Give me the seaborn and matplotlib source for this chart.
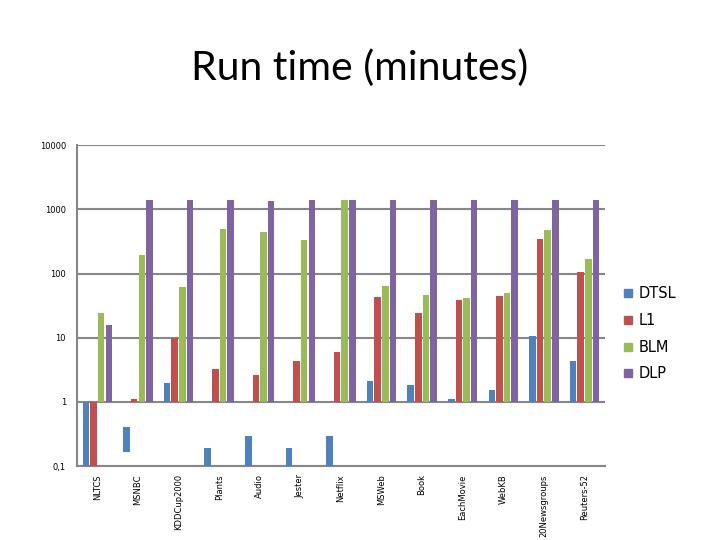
import numpy as np
import pandas as pd
import seaborn as sns
import matplotlib.pyplot as plt
from matplotlib.lines import Line2D

datasets = ['NLTCS', 'MSNBC', 'KDDCup2000', 'Plants', 'Audio', 'Jester', 'Netflix',
            'MSWeb', 'Book', 'EachMovie', 'WebKB', '20Newsgroups', 'Reuters-52']
methods = ['DTSL', 'L1', 'BLM', 'DLP']
colors = ['#4F81BD', '#C0504D', '#9BBB59', '#8064A2']

dtsl = [1.0, 0.40, 1.97, 0.19, 0.29, 0.19, 0.29, 2.14, 1.84, 1.09, 1.54, 10.6, 4.4]
l1 = [1.0, 1.09, 10.0, 3.2, 2.6, 4.4, 6.0, 42.6, 24.3, 38.7, 44.7, 343, 105]
blm = [24, 198, 61, 500, 440, 338, 1380, 64, 46, 41.6, 49, 478, 168]
dlp = [15.7, 1414, 1414, 1414, 1365, 1414, 1414, 1414, 1414, 1414, 1414, 1414, 1414]
# MSNBC's DTSL bar does not reach the bottom in the original
msnbc_dtsl_low = 0.164

yticks = [0.1, 1, 10, 100, 1000, 10000]
ylabels = ['0,1', '1', '10', '100', '1000', '10000']

rows = []
for m, vals in zip(methods, [dtsl, l1, blm, dlp]):
    for d, v in zip(datasets, vals):
        rows.append((d, m, v))
df = pd.DataFrame(rows, columns=['dataset', 'method', 'value'])
# bars above 1 grow from 1, the rest from the bottom of the axis (Excel style)
df['base'] = np.where(df['value'] > 1, 1.0, 0.1)
df.loc[(df.dataset == 'MSNBC') & (df.method == 'DTSL'), 'base'] = msnbc_dtsl_low

sns.set_style('white')
plt.rcParams['font.family'] = ['DejaVu Sans']
plt.rcParams['text.color'] = 'black'
plt.rcParams['xtick.labelcolor'] = 'black'
plt.rcParams['ytick.labelcolor'] = 'black'

fig, ax = plt.subplots(figsize=(7.2, 5.4), dpi=100)
fig.subplots_adjust(left=0.107, right=0.840, bottom=0.137, top=0.731)
ax.set_yscale('log')

# one call per bar base, full frame each time so the dodge slots stay the same
for b in sorted(df['base'].unique()):
    part = df.copy()
    part['span'] = np.where(part['base'] == b, part['value'] - part['base'], np.nan)
    sns.barplot(data=part, x='dataset', y='span', hue='method', order=datasets,
                hue_order=methods, palette=colors, saturation=1, width=0.75, gap=0.15,
                bottom=b, linewidth=0, legend=False, ax=ax, zorder=3)

ax.set_ylim(0.1, 10000)
ax.set_xlim(-0.5, len(datasets) - 0.5)
ax.set_yticks(yticks)
ax.set_yticklabels(ylabels, fontsize=6)
ax.minorticks_off()
ax.yaxis.grid(True, color='#878787', linewidth=1.5, zorder=0)
ax.set_axisbelow(True)

ax.set_xticks(range(len(datasets)))
ax.set_xticklabels(datasets, rotation=90, fontsize=6)
ax.set_xticks(np.arange(len(datasets) + 1) - 0.5, minor=True)
ax.tick_params(axis='x', which='major', length=0, pad=6)
ax.tick_params(axis='x', which='minor', length=4, width=1, color='#878787', direction='out')
ax.tick_params(axis='y', which='major', length=4, width=1, color='#878787', direction='out', pad=4)
ax.set_xlabel('')
ax.set_ylabel('')

sns.despine(ax=ax)
for s in ['left', 'bottom']:
    ax.spines[s].set_color('#878787')
    ax.spines[s].set_linewidth(1.5)

handles = [Line2D([], [], marker='s', linestyle='', markersize=6, color=c) for c in colors]
fig.legend(handles, methods, loc='upper left', bbox_to_anchor=(0.848, 0.494), frameon=False,
           fontsize=10.5, handlelength=0.6, handletextpad=0.4, labelspacing=0.8)

fig.suptitle('Run time (minutes)', fontsize=29.5, y=0.874, va='center', family='Lato', color='black')

fig.savefig('out.png', dpi=100)
